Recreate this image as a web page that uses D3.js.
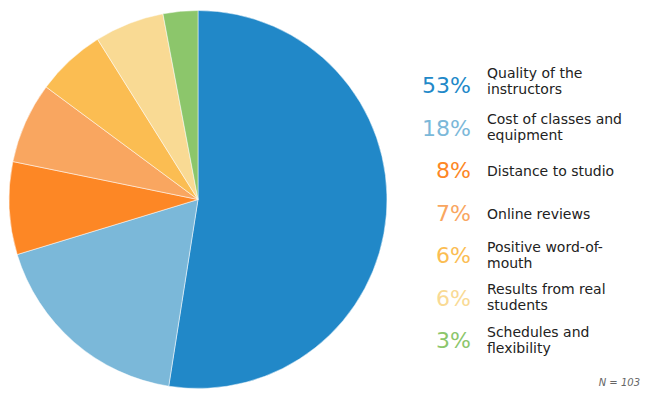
<!DOCTYPE html>
<html>
<head>
<meta charset="utf-8">
<script src="https://cdn.jsdelivr.net/npm/d3@7"></script>
<style>
  body { margin: 0; background: #fff; }
  svg { display: block; font-family: "DejaVu Sans", Verdana, sans-serif; }
</style>
</head>
<body>
<div id="chart"></div>
<script>
// Data
const categories = [
    "Quality of the\ninstructors",
    "Cost of classes and\nequipment",
    "Distance to studio",
    "Online reviews",
    "Positive word-of-\nmouth",
    "Results from real\nstudents",
    "Schedules and\nflexibility"
];
const values = [53, 18, 8, 7, 6, 6, 3];
const colors = ["#2188c8", "#7bb8d9", "#fd8725", "#f9a660", "#fbbd52", "#f9da94", "#8cc66b"];
const sampleNote = "N = 103";

const width = 651, height = 397;
const cx = 198, cy = 199.5, radius = 189;

const svg = d3.select("#chart").append("svg")
    .attr("width", width)
    .attr("height", height);

const pie = d3.pie().sort(null).value(d => d.value);
const arc = d3.arc().innerRadius(0).outerRadius(radius);

const data = categories.map((c, i) => ({ label: c, value: values[i], color: colors[i] }));

svg.append("g")
    .attr("transform", `translate(${cx},${cy})`)
    .selectAll("path")
    .data(pie(data))
    .enter()
    .append("path")
    .attr("d", arc)
    .attr("fill", d => d.data.color)
    .attr("stroke", "#fff")
    .attr("stroke-width", 0.5);

// Legend - one row per slice, percentage on the left, label on the right
const rowY = d3.scalePoint().domain(d3.range(data.length)).range([93, 348]);

const rows = svg.append("g").selectAll(".row")
    .data(data)
    .enter()
    .append("g")
    .attr("class", "row")
    .attr("transform", (d, i) => `translate(0,${rowY(i)})`);

rows.append("text")
    .attr("x", 471)
    .attr("text-anchor", "end")
    .style("font-size", "22px")
    .style("fill", d => d.color)
    .text(d => d.value + "%");

rows.each(function(d, i) {
    const lines = d.label.split("\n");
    const t = d3.select(this).append("text")
        .style("font-size", "14px")
        .style("fill", "#222");
    // first row label sits a bit higher in the original
    let startY = lines.length === 1 ? -2 : -11.5;
    if (i === 0) startY -= 4;
    lines.forEach((ln, j) => {
        t.append("tspan")
            .attr("x", 487)
            .attr("y", startY + j * 16)
            .text(ln);
    });
});

svg.append("text")
    .attr("x", 640)
    .attr("y", 386)
    .attr("text-anchor", "end")
    .style("font-size", "10px")
    .style("font-style", "italic")
    .style("fill", "#666")
    .text(sampleNote);
</script>
</body>
</html>
